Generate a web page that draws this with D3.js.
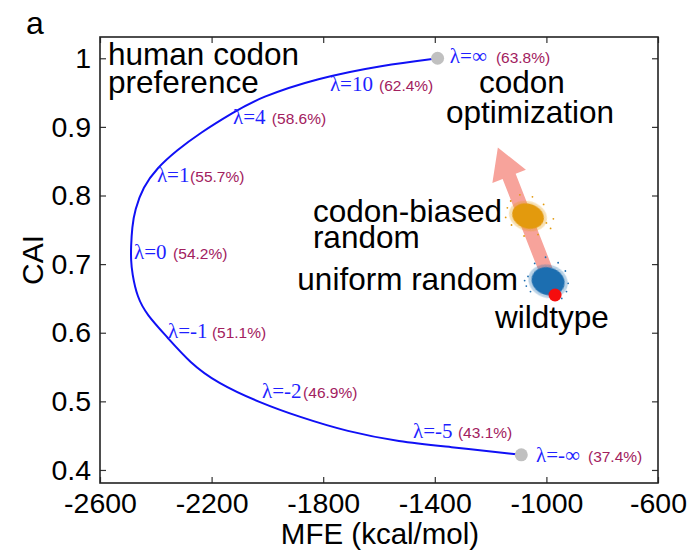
<!DOCTYPE html>
<html>
<head>
<meta charset="utf-8">
<script src="https://cdn.jsdelivr.net/npm/d3@7"></script>
<style>
  body { margin: 0; background: #fff; }
  text { font-family: "Liberation Sans", Arial, sans-serif; }
  .lam { font-family: "Liberation Serif", "DejaVu Serif", serif; fill: #1f1fff; }
  .pct { fill: #a2205e; }
</style>
</head>
<body>
<div id="chart"></div>
<script>
// pareto curve (MFE, CAI)
const curveMFE = [-1390, -1586, -1822, -2027, -2123, -2242, -2324, -2396, -2446, -2475, -2485, -2489, -2489, -2485, -2467, -2432, -2360, -2277, -2181, -2027, -1883, -1715, -1525, -1356, -1090];
const curveCAI = [1.000, 0.990, 0.971, 0.943, 0.921, 0.891, 0.866, 0.840, 0.812, 0.779, 0.754, 0.725, 0.706, 0.687, 0.652, 0.626, 0.594, 0.556, 0.527, 0.498, 0.477, 0.456, 0.441, 0.434, 0.422];

// endpoints (lambda = inf / -inf)
const endMFE = [-1390, -1090];
const endCAI = [1.000, 0.422];

// lambda labels
const lamText = ["\u03bb=\u221e", "\u03bb=10", "\u03bb=4", "\u03bb=1", "\u03bb=0", "\u03bb=-1", "\u03bb=-2", "\u03bb=-5", "\u03bb=-\u221e"];
const pctText = ["(63.8%)", "(62.4%)", "(58.6%)", "(55.7%)", "(54.2%)", "(51.1%)", "(46.9%)", "(43.1%)", "(37.4%)"];
const lamX = [-1346, -1776, -2123, -2396, -2478, -2356, -2019, -1478, -1037];
const pctX = [-1181, -1600, -1984, -2277, -2338, -2199, -1872, -1317, -851];
const lamY = [0.993, 0.953, 0.904, 0.820, 0.707, 0.592, 0.505, 0.447, 0.412];

// random sequence clouds: centre and spread
const cloudName = ["codon-biased random", "uniform random"];
const cloudMFE = [-1066, -994];
const cloudCAI = [0.770, 0.675];
const cloudSdMFE = [58, 60];
const cloudSdCAI = [0.018, 0.020];
const cloudColor = ["#e39a0c", "#1f6eb0"];
// a few stray samples around each cloud
const strayBiased = [[-1140, 0.782], [-1128, 0.792], [-1000, 0.760], [-985, 0.752], [-1030, 0.743], [-1125, 0.757], [-1050, 0.798], [-1095, 0.801], [-1010, 0.787], [-1146, 0.768], [-975, 0.766], [-1080, 0.741]];
const strayUniform = [[-1066, 0.682], [-1072, 0.668], [-922, 0.672], [-932, 0.690], [-958, 0.702], [-1042, 0.701], [-1003, 0.710], [-1057, 0.660], [-928, 0.660], [-1078, 0.676], [-945, 0.650]];

// wildtype
const wildMFE = -969;
const wildCAI = 0.655;

// optimization arrow (tail -> head)
const arrowMFE = [-1002, -1174];
const arrowCAI = [0.691, 0.870];

const xTicks = [-2600, -2200, -1800, -1400, -1000, -600];
const yTicks = [0.4, 0.5, 0.6, 0.7, 0.8, 0.9, 1];

const width = 689, height = 551;
const margin = { top: 37, right: 31, bottom: 68, left: 100 };

const svg = d3.select("#chart").append("svg")
  .attr("width", width).attr("height", height);

const x = d3.scaleLinear().domain([-2600, -600]).range([margin.left, width - margin.right]);
const y = d3.scaleLinear().domain([0.381, 1.031]).range([height - margin.bottom, margin.top]);

// --- axes (gnuplot style, inward mirrored ticks) ---
const tick = 6;
svg.append("g")
  .attr("transform", `translate(0,${y.range()[0]})`)
  .call(d3.axisBottom(x).tickValues(xTicks).tickSize(-tick).tickPadding(10).tickFormat(d => String(d)))
  .call(g => g.select(".domain").remove());
svg.append("g")
  .attr("transform", `translate(0,${y.range()[1]})`)
  .call(d3.axisTop(x).tickValues(xTicks).tickSize(-tick).tickFormat(""))
  .call(g => g.select(".domain").remove());
svg.append("g")
  .attr("transform", `translate(${x.range()[0]},0)`)
  .call(d3.axisLeft(y).tickValues(yTicks).tickSize(-tick).tickPadding(9).tickFormat(d => d === 1 ? "1" : d3.format(".1f")(d)))
  .call(g => g.select(".domain").remove());
svg.append("g")
  .attr("transform", `translate(${x.range()[1]},0)`)
  .call(d3.axisRight(y).tickValues(yTicks).tickSize(-tick).tickFormat(""))
  .call(g => g.select(".domain").remove());

svg.selectAll(".tick line").attr("stroke", "#333").attr("stroke-width", 1.2);
svg.selectAll(".tick text").attr("fill", "#000").style("font-size", "28.5px");

svg.append("rect")
  .attr("x", x.range()[0]).attr("y", y.range()[1])
  .attr("width", x.range()[1] - x.range()[0])
  .attr("height", y.range()[0] - y.range()[1])
  .attr("fill", "none").attr("stroke", "#222").attr("stroke-width", 1.6);

// axis titles
svg.append("text")
  .attr("x", (x.range()[0] + x.range()[1]) / 2 + 1).attr("y", 544)
  .attr("text-anchor", "middle").style("font-size", "29.5px")
  .text("MFE (kcal/mol)");
svg.append("text")
  .attr("transform", `translate(43,${(y.range()[0] + y.range()[1]) / 2}) rotate(-90)`)
  .attr("text-anchor", "middle").style("font-size", "30px")
  .text("CAI");
svg.append("text")
  .attr("x", 26).attr("y", 34).style("font-size", "32px").text("a");

// --- arrow ---
const ax0 = x(arrowMFE[0]), ay0 = y(arrowCAI[0]);
const ax1 = x(arrowMFE[1]), ay1 = y(arrowCAI[1]);
const len = Math.hypot(ax1 - ax0, ay1 - ay0);
const ang = Math.atan2(ay1 - ay0, ax1 - ax0) * 180 / Math.PI;
const shaftW = 14, headW = 36, headL = 31;
svg.append("path")
  .attr("transform", `translate(${ax0},${ay0}) rotate(${ang})`)
  .attr("d", `M0,${-shaftW / 2} L${len - headL},${-shaftW / 2} L${len - headL},${-headW / 2} L${len},0 L${len - headL},${headW / 2} L${len - headL},${shaftW / 2} L0,${shaftW / 2} Z`)
  .attr("fill", "#f7a39b");

// --- clouds ---
const defs = svg.append("defs");
defs.append("filter").attr("id", "soft")
  .append("feGaussianBlur").attr("stdDeviation", 0.7);

const cloudData = cloudName.map((n, i) => ({
  name: n, mfe: cloudMFE[i], cai: cloudCAI[i], sx: cloudSdMFE[i], sy: cloudSdCAI[i], color: cloudColor[i]
}));
const clouds = svg.append("g");
clouds.selectAll("ellipse.halo").data(cloudData).enter().append("ellipse")
  .attr("cx", d => x(d.mfe)).attr("cy", d => y(d.cai))
  .attr("rx", d => x(d.mfe + d.sx * 1.2) - x(d.mfe))
  .attr("ry", d => y(d.cai) - y(d.cai + d.sy * 1.2))
  .attr("transform", d => `rotate(18,${x(d.mfe)},${y(d.cai)})`)
  .attr("fill", d => d.color).attr("opacity", 0.3).attr("filter", "url(#soft)");
clouds.selectAll("ellipse.core").data(cloudData).enter().append("ellipse")
  .attr("cx", d => x(d.mfe)).attr("cy", d => y(d.cai))
  .attr("rx", d => x(d.mfe + d.sx) - x(d.mfe))
  .attr("ry", d => y(d.cai) - y(d.cai + d.sy))
  .attr("transform", d => `rotate(18,${x(d.mfe)},${y(d.cai)})`)
  .attr("fill", d => d.color).attr("filter", "url(#soft)");
[strayBiased, strayUniform].forEach((pts, i) => {
  clouds.selectAll(null).data(pts).enter().append("circle")
    .attr("cx", d => x(d[0])).attr("cy", d => y(d[1]))
    .attr("r", 0.9).attr("fill", cloudColor[i]);
});

// wildtype
svg.append("circle")
  .attr("cx", x(wildMFE)).attr("cy", y(wildCAI)).attr("r", 6.5).attr("fill", "#f50d0d");

// --- curve ---
const pts = curveMFE.map((m, i) => [m, curveCAI[i]]);
svg.append("path")
  .datum(pts)
  .attr("d", d3.line().x(d => x(d[0])).y(d => y(d[1])).curve(d3.curveBasis))
  .attr("fill", "none").attr("stroke", "#1010f5").attr("stroke-width", 2);

svg.selectAll("circle.end").data(endMFE.map((m, i) => [m, endCAI[i]])).enter().append("circle")
  .attr("cx", d => x(d[0])).attr("cy", d => y(d[1])).attr("r", 6.5).attr("fill", "#c0c0c0");

// lambda labels
lamText.forEach((t, i) => {
  svg.append("text").attr("class", "lam")
    .attr("x", x(lamX[i])).attr("y", y(lamY[i]))
    .style("font-size", "21px").text(t);
  svg.append("text").attr("class", "pct")
    .attr("x", x(pctX[i])).attr("y", y(lamY[i]))
    .style("font-size", "15.5px").text(pctText[i]);
});

// --- annotations ---
const note = (txt, mfe, cai, anchor) => svg.append("text")
  .attr("x", x(mfe)).attr("y", y(cai))
  .attr("text-anchor", anchor).style("font-size", "31.5px").text(txt);
note("human codon", -2571, 0.990, "start");
note("preference", -2571, 0.950, "start");
note("codon", -1088, 0.949, "middle");
note("optimization", -1059, 0.905, "middle");
note("codon-biased", -1837, 0.761, "start");
note("random", -1837, 0.723, "start");
note("uniform random", -1102, 0.662, "end");
note("wildtype", -1184, 0.607, "start");
</script>
</body>
</html>
